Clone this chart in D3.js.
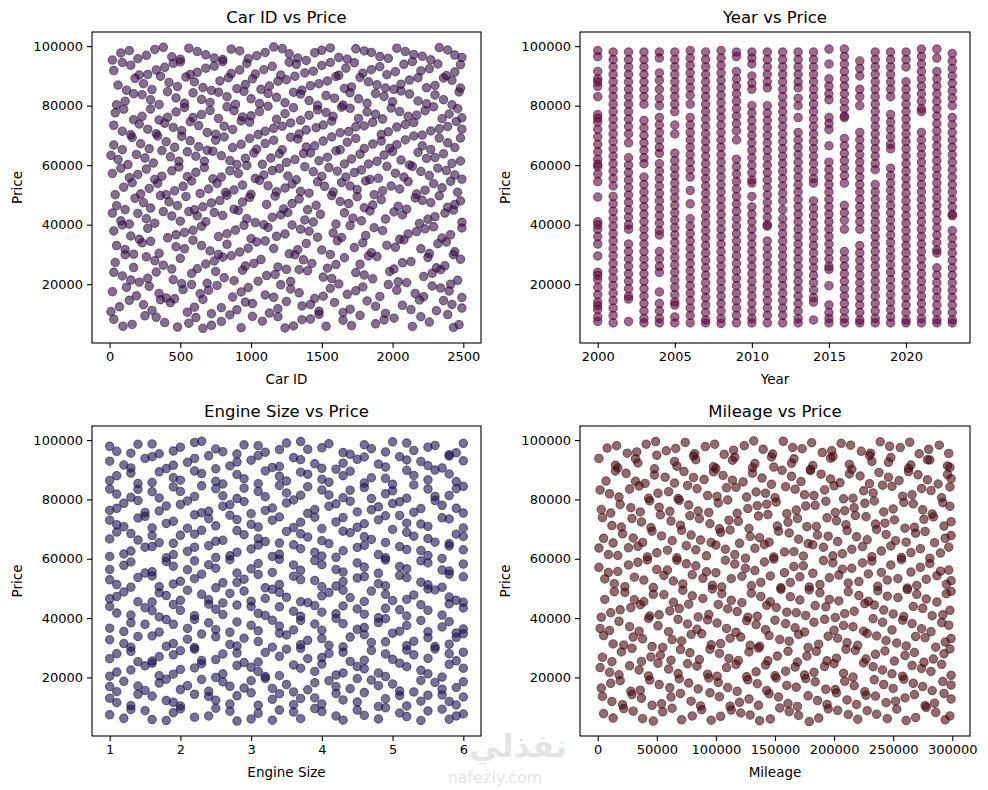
<!DOCTYPE html>
<html>
<head>
<meta charset="utf-8">
<script src="https://cdn.jsdelivr.net/npm/d3@7"></script>
<style>
body { margin: 0; background: #fff; }
text { font-family: "DejaVu Sans", sans-serif; }
</style>
</head>
<body>
<script>
// prices are in thousands, mileage in thousands of miles

var priceTicks = [20000, 40000, 60000, 80000, 100000];

var carIdTicks = [0, 500, 1000, 1500, 2000, 2500];
var carIdPrice = [
[30,8.2],[160,6.5],[250,9.4],[390,7.1],[480,5.6],[610,8.8],[720,6.2],[850,9.7],[930,5.4],[1080,7.6],[1190,9.1],[1300,6.0],[1420,8.3],[1530,5.9],[1650,7.9],[1770,9.5],[1880,6.7],[2010,8.6],[2140,5.8],[2260,7.3],[2390,9.8],[2470,6.4],
[70,12.4],[140,14.6],[300,11.2],[430,13.8],[550,10.6],[660,14.9],[790,12.1],[900,11.4],[1010,13.5],[1130,10.3],[1250,14.2],[1360,12.7],[1480,10.9],[1590,13.9],[1700,11.6],[1820,14.4],[1950,10.2],[2070,12.9],[2190,14.7],[2310,11.1],[2420,13.2],
[20,17.5],[190,16.1],[280,19.3],[400,15.4],[520,18.2],[640,16.8],[760,19.6],[870,15.7],[980,18.9],[1100,16.4],[1210,19.8],[1340,17.1],[1450,15.2],[1560,18.6],[1680,16.6],[1790,19.1],[1910,15.9],[2030,18.0],[2160,16.9],[2280,19.4],[2400,17.7],[2490,15.5],
[90,22.8],[210,20.7],[330,24.1],[450,21.5],[580,23.6],[690,20.3],[810,22.2],[940,24.7],[1050,21.0],[1170,23.3],[1280,20.9],[1400,24.5],[1510,22.4],[1620,20.1],[1740,23.9],[1860,21.8],[1980,24.3],[2100,20.5],[2220,22.6],[2340,24.9],[2460,21.3],
[40,27.3],[170,25.6],[260,29.2],[380,26.4],[500,28.7],[620,25.2],[740,27.8],[860,29.6],[960,26.1],[1070,28.3],[1190,25.8],[1310,29.9],[1430,27.0],[1540,25.4],[1660,28.9],[1770,26.7],[1890,29.3],[2010,25.1],[2130,27.6],[2250,29.0],[2370,26.2],[2480,28.4],
[110,31.7],[230,33.9],[350,30.4],[470,32.6],[590,34.8],[710,31.2],[830,33.4],[920,30.8],[1040,34.2],[1160,32.0],[1270,30.2],[1390,33.7],[1500,31.5],[1610,34.6],[1730,32.3],[1850,30.6],[1960,33.1],[2080,34.9],[2200,31.9],[2320,33.6],[2440,30.9],
[30,37.9],[150,36.2],[270,38.8],[410,35.6],[530,37.4],[650,39.5],[770,36.0],[890,38.2],[1000,35.3],[1120,39.1],[1240,36.9],[1350,38.5],[1470,35.8],[1580,37.2],[1700,39.7],[1810,36.4],[1930,38.0],[2050,35.1],[2170,37.7],[2290,39.3],[2410,36.6],[2490,38.9],
[80,41.3],[200,43.8],[320,40.5],[440,42.9],[560,44.4],[680,41.0],[800,43.1],[910,44.8],[1030,40.7],[1150,42.5],[1260,44.1],[1380,41.6],[1490,43.5],[1600,40.2],[1720,42.2],[1840,44.6],[1950,41.9],[2070,43.3],[2190,40.4],[2300,42.7],[2430,44.9],
[50,46.4],[180,48.9],[290,45.6],[420,47.7],[540,49.5],[660,46.0],[780,48.1],[880,45.2],[990,49.2],[1110,46.8],[1230,45.3],[1340,48.6],[1460,46.5],[1570,49.8],[1690,47.1],[1800,45.7],[1920,48.4],[2040,46.2],[2160,49.0],[2270,47.4],[2390,45.9],[2480,48.0],
[100,52.6],[220,50.3],[340,53.9],[460,51.4],[580,54.7],[700,52.0],[820,50.8],[940,53.3],[1060,54.9],[1180,51.1],[1290,53.7],[1410,50.6],[1520,52.9],[1640,54.2],[1750,51.8],[1870,50.1],[1990,53.0],[2110,54.5],[2230,51.6],[2350,52.4],[2460,50.9],
[20,57.2],[140,55.8],[260,58.7],[370,56.3],[490,59.4],[610,57.6],[730,55.4],[850,58.1],[970,59.9],[1090,56.7],[1200,58.9],[1320,55.1],[1440,57.8],[1550,59.2],[1670,56.0],[1780,58.4],[1900,55.6],[2020,57.3],[2140,59.6],[2260,56.5],[2380,58.2],[2490,55.3],
[60,61.9],[190,63.6],[310,60.7],[430,62.8],[550,64.5],[670,61.3],[790,63.2],[900,60.2],[1020,64.1],[1140,62.4],[1250,60.9],[1370,63.9],[1480,61.5],[1600,64.8],[1710,62.1],[1830,60.4],[1940,63.4],[2060,61.7],[2180,64.3],[2300,62.6],[2420,60.6],
[30,66.8],[160,69.3],[280,65.5],[400,67.9],[510,69.7],[630,66.2],[750,68.4],[870,65.9],[990,69.0],[1100,67.3],[1220,65.2],[1330,68.8],[1450,66.5],[1570,69.5],[1680,67.7],[1800,65.6],[1920,68.1],[2030,66.9],[2150,69.8],[2270,65.3],[2390,67.5],[2480,69.1],
[90,71.4],[210,73.8],[330,70.6],[450,72.7],[570,74.6],[690,71.0],[810,73.1],[930,74.9],[1050,70.3],[1160,72.4],[1280,74.2],[1390,71.8],[1510,73.5],[1630,70.9],[1740,72.9],[1860,74.4],[1970,71.2],[2090,73.7],[2210,70.1],[2330,72.2],[2450,74.7],
[40,77.6],[170,75.3],[290,78.9],[410,76.1],[530,79.4],[650,77.0],[770,75.7],[880,78.3],[1000,76.6],[1120,79.8],[1240,77.3],[1350,75.1],[1470,78.6],[1580,76.4],[1700,79.1],[1820,77.9],[1930,75.5],[2050,78.0],[2170,76.8],[2290,79.6],[2400,77.2],[2490,75.9],
[110,81.5],[230,83.7],[350,80.4],[470,82.6],[590,84.3],[710,81.1],[830,83.0],[950,84.8],[1060,80.7],[1180,82.8],[1300,84.5],[1410,81.7],[1530,83.4],[1650,80.2],[1760,82.3],[1880,84.1],[2000,81.3],[2120,83.9],[2240,80.6],[2360,82.0],[2470,84.6],
[60,86.9],[180,89.2],[300,85.4],[420,87.8],[540,89.6],[660,86.1],[780,88.3],[900,85.7],[1010,89.0],[1130,86.6],[1250,88.7],[1360,85.2],[1480,87.4],[1600,89.8],[1710,86.3],[1830,88.0],[1950,85.9],[2060,87.2],[2180,89.4],[2300,86.8],[2420,88.5],
[30,91.8],[150,93.6],[270,90.5],[390,92.9],[500,94.7],[620,91.2],[740,93.3],[860,90.8],[970,94.2],[1090,92.1],[1210,90.3],[1320,93.9],[1440,91.6],[1560,94.5],[1670,92.6],[1790,90.9],[1910,93.1],[2020,91.4],[2140,94.8],[2260,92.4],[2380,90.1],[2480,93.8],
[80,97.7],[200,95.8],[320,98.9],[440,96.4],[560,99.3],[680,97.1],[800,95.5],[920,98.4],[1040,96.8],[1160,99.7],[1270,97.4],[1390,95.2],[1500,98.6],[1620,96.2],[1740,99.1],[1850,97.9],[1970,95.9],[2090,98.2],[2210,96.6],[2330,99.5],[2440,97.0],
[95,5.9],[330,8.9],[560,6.9],[790,7.5],[1010,9.2],[1240,5.3],[1360,8.1],[1480,9.9],[1710,6.1],[1940,8.0],[2200,9.1],[2430,5.5],[660,5.2],
[10,10.8],[240,13.1],[360,14.8],[600,12.3],[720,10.1],[960,14.0],[1190,11.8],[1420,13.2],[1650,10.5],[1880,12.6],[2130,11.5],[2360,14.5],[2490,12.0],
[120,19.0],[350,16.9],[460,15.1],[700,18.0],[930,17.4],[1160,15.6],[1280,18.4],[1510,16.0],[1740,17.8],[1970,19.9],[2220,15.8],[2340,18.7],[580,19.9],
[30,24.0],[150,21.4],[270,22.0],[510,20.2],[750,24.3],[880,21.2],[1110,22.9],[1340,24.9],[1570,21.9],[1800,23.1],[2040,20.8],[2280,23.7],[2410,20.0],
[110,29.9],[320,27.9],[440,25.1],[680,26.8],[800,29.1],[1020,27.0],[1250,25.0],[1370,28.2],[1600,26.6],[1830,29.5],[2070,27.2],[2310,25.5],[2430,29.9],
[50,33.0],[170,30.1],[290,34.4],[530,31.9],[650,33.0],[770,30.0],[980,32.1],[1100,34.5],[1330,31.6],[1560,30.0],[1790,33.9],[2020,32.4],[2260,30.3],[2380,34.2],
[90,39.9],[210,35.1],[470,36.6],[590,38.1],[830,37.0],[950,39.8],[1180,36.1],[1290,39.9],[1410,37.8],[1640,35.7],[1870,39.0],[2110,36.9],[2230,38.6],[2350,35.5],
[20,43.9],[140,40.2],[260,42.0],[380,44.4],[500,41.2],[620,43.0],[740,44.1],[970,42.0],[1090,40.0],[1210,43.3],[1440,40.9],[1660,44.0],[1780,41.3],[2010,44.3],[2250,41.8],[2370,43.9],[2490,40.8],
[110,45.1],[240,47.4],[360,49.8],[480,46.4],[600,45.0],[720,47.3],[830,49.9],[940,47.6],[1170,49.6],[1290,47.1],[1400,45.0],[1630,47.8],[1750,49.4],[1860,46.6],[2100,45.2],[2210,48.2],[2330,49.7],[2440,46.8],
[40,50.1],[160,54.1],[280,52.2],[400,50.1],[520,52.9],[640,50.5],[760,53.9],[880,51.7],[1000,50.2],[1120,53.1],[1240,52.3],[1350,51.2],[1470,54.4],[1580,51.0],[1700,53.0],[1810,54.7],[1930,51.4],[2050,52.0],[2170,50.3],[2290,53.8],[2410,54.6],
[80,59.0],[200,56.9],[320,55.2],[440,58.1],[550,56.2],[670,59.2],[790,56.0],[910,57.2],[1030,55.5],[1150,58.2],[1260,56.4],[1380,59.5],[1500,56.3],[1610,58.0],[1730,57.5],[1840,55.2],[1960,59.6],[2080,56.0],[2200,57.9],[2320,59.0],[2440,56.7],
[10,63.3],[130,60.2],[250,62.4],[370,64.9],[490,61.3],[610,63.0],[730,64.7],[850,61.6],[960,62.3],[1080,60.3],[1200,63.8],[1310,61.9],[1420,64.1],[1540,62.7],[1660,60.4],[1770,63.7],[1890,61.3],[2000,64.6],[2120,60.1],[2240,62.3],[2360,63.8],[2480,61.4],
[90,65.2],[220,67.2],[340,69.8],[460,66.0],[570,68.2],[690,65.0],[810,69.5],[930,67.0],[1040,65.4],[1160,68.4],[1280,69.4],[1390,66.1],[1510,68.1],[1630,65.2],[1740,69.0],[1860,67.1],[1980,65.7],[2090,68.5],[2210,66.5],[2330,69.1],[2440,65.9],
[30,73.4],[150,70.2],[270,72.1],[390,74.1],[510,71.6],[630,73.3],[750,70.4],[870,72.0],[990,74.5],[1100,71.4],[1220,73.1],[1340,70.5],[1460,72.6],[1570,74.8],[1690,71.3],[1800,73.2],[1920,70.3],[2030,72.8],[2150,74.3],[2270,71.5],[2390,73.0],[2490,72.1],
[100,78.8],[230,76.4],[350,75.2],[470,77.9],[590,76.0],[710,78.4],[830,79.6],[940,76.2],[1060,78.0],[1180,75.4],[1300,79.3],[1410,76.8],[1530,77.7],[1640,79.5],[1760,75.7],[1880,77.1],[1990,79.2],[2110,76.4],[2230,78.3],[2350,75.6],[2460,79.0],
[50,80.3],[170,84.0],[290,82.0],[410,84.7],[530,80.8],[650,82.1],[770,84.5],[890,80.5],[1000,82.3],[1120,84.1],[1240,81.0],[1350,83.9],[1470,80.1],[1590,82.5],[1700,84.3],[1820,80.8],[1940,83.1],[2060,84.9],[2180,81.6],[2300,83.6],[2420,80.3],
[120,85.2],[240,87.4],[360,89.9],[480,86.4],[600,88.0],[720,85.1],[840,89.4],[960,87.1],[1070,85.5],[1190,88.2],[1310,89.9],[1420,86.7],[1540,88.3],[1660,85.8],[1770,89.5],[1890,87.0],[2010,85.5],[2120,88.6],[2240,86.0],[2360,89.3],[2480,85.9],
[90,94.5],[210,90.3],[330,92.0],[450,94.2],[570,90.5],[680,92.6],[800,94.8],[920,92.0],[1030,90.6],[1150,93.2],[1270,94.6],[1380,91.0],[1500,93.5],[1620,90.2],[1730,94.4],[1850,92.1],[1960,90.4],[2080,93.9],[2200,91.7],[2320,94.0],[2440,91.3],
[20,95.3],[140,98.5],[260,96.9],[380,99.6],[500,95.6],[620,98.2],[740,96.0],[860,99.0],[980,95.8],[1100,97.9],[1220,99.2],[1330,96.0],[1450,97.8],[1560,99.4],[1680,95.6],[1800,98.4],[1910,96.5],[2030,99.3],[2150,97.2],[2270,95.4],[2390,98.7],[2490,96.2]
];

var yearTicks = [2000, 2005, 2010, 2015, 2020];
var years = [2000,2001,2002,2003,2004,2005,2006,2007,2008,2009,2010,2011,2012,2013,2014,2015,2016,2017,2018,2019,2020,2021,2022,2023];
var yearPrices = [
[98.5,96.5,91.5,89,88,86.5,83,77,75.8,74.5,72,69.5,67,64.5,62,60.3,59.5,57,54.5,49.3,41,40,38.5,36,33.5,29.5,24,23,21.5,19,16.5,14,12.8,11.5,9,7.5],
[98,95.5,93,90.5,88,85.5,83,80.5,78,75.5,73,70.5,68,65.5,63,60.5,58,55.5,53,49.5,47,44.5,42,39.5,37,34.5,32,29.5,27,24.5,22,19.5,17,14.5,12,9.5,7],
[98,95.5,93,90.5,88,85.5,83,80.5,78,75.5,73,70.5,67.5,62.5,60,57.5,55,52.5,50,47.5,45,42.5,40,38.5,33.5,31,28.5,26,23.5,21,18.5,16,15,7.5],
[98,95.5,93,90.5,88,85.5,83,80.5,75,72.5,70,67.5,65,62.5,60.5,56,53.5,51,48.5,46,43.5,41,38.5,36,33.5,31,28.5,26,23.5,21,18.5,16,13.5,11,8.5,7],
[98,96,91,88.5,85.5,82.5,80,76,73.5,71,68.5,66,64,60.5,58,55.5,53,50.5,48,45.5,43,40.5,38,36.5,31,28.5,26,24,17.4,13.5,11,8.5,7],
[98,95.5,93,90.5,88,85.5,83,80.5,78,73.5,70.5,64,61.5,59,56.5,54,51.5,49,46.5,44,41.5,39,36.5,34,31.5,29,26.5,24,21.5,19,16.5,14,13,9,7],
[98.5,96,93.5,91,88.5,86,83.5,80.5,76,73.5,71,68.5,66,63.5,61,58.5,56,51.5,47,42,39.5,37,34.5,32,29.5,27,24.5,22,19.5,17,14.5,12,9.5,7],
[98,95.5,93,90.5,88,85.5,83,80.5,78,75.5,73,70.5,68,65.5,63,60.5,58,55.5,53,50.5,48,45.5,43,40.5,38,35.5,33,30.5,28,25.5,23,20.5,18,15.5,13,10.5,8,7],
[98.5,96,93.5,91,88.5,86,83.5,81,78.5,76,73.5,71,68.5,66,63.5,61,58.5,56,53.5,51,48.5,46,43.5,41,38.5,36,33.5,31,28.5,26,23.5,21,18.5,16,13.5,11,8.5,6.8],
[98,96.5,91.5,89,86.5,84,81.5,79,76.5,74,71.5,68.5,62,59.5,57,54.5,52,49.5,47,44.5,42,39.5,37,34.5,32,29.5,27,24.5,22,19.5,17,14.5,12,9.5,7],
[98,96,94,90,87.5,85.5,80,77.5,75,72.5,70,67.5,65,62.5,60,57.5,55,54,49.5,46,43.5,41,38.5,36,33.5,31,28.5,26,23.5,21,18.5,16,13.5,11,8.5,7],
[98,95.5,93,90.5,88,86,80,77.5,75,72.5,70,67.5,65,62.5,60,57.5,55,52.5,50,47.5,45,42.5,40,39.5,34.5,32,29.5,27,24.5,22,19.5,17,14.5,12,9.5,7],
[98,95.5,93,90.5,88,85.5,83,80.5,78,75.5,73,70.5,68,65.5,63,60.5,58,55.5,53,50.5,48,45,42,39.5,37,34.5,32,29.5,27,24.5,22,19.5,17,14.5,12,9.5,7],
[98,95.5,93,90.5,88,86,82.5,80,76,71,68.5,66,63.5,61,58.5,56,53.5,51,48.5,46,43.5,41,38.5,36,33.5,31,28.5,26,23.5,21,18.5,16,13.5,11,8.5,7],
[98,95.5,93,90.5,88,85.5,83,80.5,78,75.5,73,70.5,68,65.5,63,60.5,58,55.5,54,48,45.5,43,40.5,38,35.5,33,30.5,28,25.5,23,20.5,18,15.5,14,8],
[99,94,89,86.5,84,82,76,74,72,66.5,61,58.5,56,53.5,51,48.5,46,43.5,41,38.5,36,33.5,31,28.5,26,25,19.5,13,10.5,8.5,7],
[99,96.5,94,91.5,89,86.5,84,81.5,79,76.5,76,69,66.5,64,61.5,59,56.5,54,46.5,44,41.5,38.5,31,28.5,26,23.5,21,18.5,16,13.5,11,8.5,7],
[95,92.5,90,85.5,83,80,71,68.5,66,63.5,61,58.5,56,53.5,51,48.5,46,43.5,41,38.5,33,30.5,28,25.5,23,20.5,18,15.5,13,10.5,8,7],
[98,95.5,93,90.5,88,85.5,83,80.5,78,75.5,73,70.5,68,65.5,63,60.5,58.5,53.5,51,48.5,46,43.5,41,38.5,36,33.5,31,28.5,26,23.5,21,18.5,16,13.5,11,8.5,7],
[98,95.5,93,90.5,88,85.5,83,77,74.5,72,69.5,67,65.5,59,56.5,54,51.5,49,46.5,44,41.5,39,36.5,34,31.5,29,26.5,24,21.5,19,16.5,14,11.5,9,7],
[98,95.5,93,88,85.5,83,80.5,78,75.5,73,70.5,68,65.5,63,60.5,58,55.5,53,50.5,48,45.5,43,40.5,38,35.5,33,30.5,28,25.5,23,20.5,18,15.5,13,10.5,8,7],
[99,96.5,94,91.5,89,86.5,84,81.5,79,78,71,68.5,66,63.5,61,58.5,56,53.5,51,48.5,46,43.5,41,38.5,36,33.5,31,28.5,26,23.5,21,18.5,16,13.5,11,8.5,7],
[99,96,91.5,89,86.5,84,81.5,79,76.5,74,71.5,69,66.5,64,61.5,59,56.5,54,51.5,49,46.5,44,41.5,39,36.5,34,31.5,30.5,25.5,23,20.5,18,15.5,13,10.5,8,7],
[97.5,95,92.5,90,87.5,85,82.5,80,76,73.5,71,68.5,66,63.5,61,58.5,56,53.5,51,48.5,46,43.5,43,38,35.5,33,30.5,28,25.5,23,20.5,18,15.5,13,10.5,8,7]
];

var engineTicks = [1, 2, 3, 4, 5, 6];
var enginePrice = [
[1.0,7.4],[1.3,9.2],[1.6,5.8],[1.9,8.1],[2.2,6.6],[2.5,9.6],[2.8,5.3],[3.1,7.9],[3.4,9.0],[3.7,6.1],[4.0,8.5],[4.3,5.6],[4.6,7.2],[4.9,9.8],[5.2,6.8],[5.5,8.7],[5.8,5.9],[6.0,7.7],
[1.1,11.5],[1.4,14.3],[1.8,12.2],[2.0,10.4],[2.4,13.6],[2.7,11.0],[3.0,14.8],[3.3,12.6],[3.6,10.8],[3.9,13.1],[4.2,14.6],[4.5,11.7],[4.8,10.2],[5.1,13.9],[5.4,12.0],[5.7,14.1],[5.9,10.7],
[1.0,16.9],[1.2,18.7],[1.5,15.6],[1.8,19.4],[2.1,17.2],[2.4,15.3],[2.6,18.5],[2.9,16.4],[3.2,19.7],[3.5,17.6],[3.8,15.8],[4.1,18.9],[4.4,16.2],[4.7,19.1],[5.0,17.8],[5.3,15.1],[5.6,18.3],[5.9,16.6],
[1.1,21.8],[1.5,23.9],[1.7,20.6],[2.0,22.7],[2.3,24.6],[2.6,21.2],[3.0,23.4],[3.2,20.3],[3.6,24.2],[3.9,22.0],[4.2,20.8],[4.5,23.7],[4.8,21.5],[5.1,24.8],[5.4,22.4],[5.7,20.1],[6.0,23.1],
[1.0,26.3],[1.3,28.8],[1.6,25.5],[1.9,27.6],[2.2,29.5],[2.5,26.0],[2.8,28.2],[3.1,25.2],[3.4,27.1],[3.7,29.8],[4.0,26.7],[4.3,28.5],[4.6,25.8],[4.9,27.9],[5.2,29.2],[5.5,26.4],[5.8,28.0],
[1.2,31.4],[1.4,33.8],[1.8,30.5],[2.1,32.9],[2.3,34.6],[2.7,31.1],[2.9,33.2],[3.3,30.2],[3.5,34.3],[3.8,32.5],[4.1,30.8],[4.4,33.6],[4.7,31.8],[5.0,34.9],[5.3,32.2],[5.6,30.4],[5.9,33.5],
[1.0,36.6],[1.3,38.4],[1.7,35.3],[1.9,37.9],[2.2,39.6],[2.5,36.1],[2.8,38.7],[3.1,35.7],[3.4,37.3],[3.7,39.2],[4.0,35.9],[4.3,38.1],[4.6,36.8],[4.9,39.8],[5.2,37.5],[5.5,35.4],[5.8,38.8],[6.0,36.3],
[1.1,41.7],[1.5,43.5],[1.7,40.4],[2.0,42.6],[2.4,44.7],[2.6,41.2],[3.0,43.9],[3.2,40.9],[3.6,42.3],[3.9,44.2],[4.2,41.5],[4.5,43.1],[4.8,40.1],[5.1,42.8],[5.4,44.5],[5.7,41.0],[6.0,43.4],
[1.0,46.5],[1.2,48.8],[1.6,45.4],[1.8,47.6],[2.1,49.4],[2.4,46.2],[2.7,48.3],[3.0,45.7],[3.3,49.7],[3.5,47.0],[3.8,45.2],[4.1,48.6],[4.4,46.9],[4.7,49.1],[5.0,45.9],[5.3,47.8],[5.6,49.5],[5.9,46.0],
[1.1,51.3],[1.4,53.7],[1.7,50.6],[2.0,52.4],[2.3,54.8],[2.6,51.9],[2.9,53.1],[3.2,50.2],[3.6,54.1],[3.9,52.7],[4.2,50.8],[4.5,53.5],[4.8,51.6],[5.1,54.4],[5.4,52.1],[5.7,50.4],[6.0,53.9],
[1.0,56.4],[1.3,58.9],[1.6,55.6],[1.9,57.5],[2.2,59.3],[2.5,56.8],[2.8,55.2],[3.1,58.4],[3.4,59.8],[3.7,56.1],[4.0,58.0],[4.3,55.5],[4.6,57.2],[4.9,59.6],[5.2,56.6],[5.5,58.6],[5.8,55.9],
[1.2,61.6],[1.5,63.9],[1.8,60.3],[2.1,62.5],[2.4,64.4],[2.7,61.0],[3.0,63.3],[3.3,60.8],[3.6,64.7],[3.9,62.2],[4.2,60.5],[4.5,63.8],[4.8,61.4],[5.1,64.1],[5.4,62.8],[5.7,60.1],[6.0,63.0],
[1.0,66.7],[1.3,68.5],[1.7,65.4],[2.0,67.9],[2.3,69.6],[2.6,66.2],[2.9,68.1],[3.2,65.8],[3.5,69.2],[3.8,67.3],[4.1,65.1],[4.4,68.8],[4.7,66.5],[5.0,69.9],[5.3,67.6],[5.6,65.6],[5.9,68.3],
[1.1,71.5],[1.4,73.7],[1.6,70.4],[1.9,72.6],[2.2,74.8],[2.5,71.1],[2.8,73.2],[3.1,70.7],[3.4,74.1],[3.7,72.3],[4.0,70.2],[4.3,73.9],[4.6,71.8],[4.9,74.5],[5.2,72.0],[5.5,70.9],[5.8,73.4],
[1.0,76.3],[1.2,78.7],[1.5,75.6],[1.8,77.8],[2.1,79.5],[2.4,76.0],[2.7,78.2],[3.0,75.2],[3.3,77.1],[3.6,79.8],[3.9,76.6],[4.2,78.5],[4.5,75.8],[4.8,77.5],[5.1,79.2],[5.4,76.9],[5.7,78.0],[6.0,75.4],
[1.1,81.8],[1.4,83.4],[1.7,80.5],[2.0,82.7],[2.3,84.6],[2.6,81.2],[2.9,83.8],[3.2,80.9],[3.5,82.2],[3.8,84.3],[4.1,81.5],[4.4,83.1],[4.7,80.3],[5.0,82.9],[5.3,84.9],[5.6,81.0],[5.9,83.6],
[1.0,86.4],[1.3,88.9],[1.6,85.7],[1.9,87.3],[2.2,89.6],[2.5,86.1],[2.8,88.4],[3.1,85.3],[3.4,87.8],[3.7,89.2],[4.0,86.8],[4.3,88.0],[4.6,85.5],[4.9,87.1],[5.2,89.8],[5.5,86.6],[5.8,88.6],
[1.2,91.6],[1.5,93.8],[1.8,90.4],[2.1,92.5],[2.4,94.7],[2.7,91.3],[3.0,93.2],[3.3,90.8],[3.6,94.1],[3.9,92.0],[4.2,90.2],[4.5,93.5],[4.8,91.9],[5.1,94.4],[5.4,92.8],[5.7,90.6],[6.0,93.0],
[1.0,97.9],[1.3,95.6],[1.6,98.7],[1.9,96.3],[2.2,99.2],[2.5,97.0],[2.8,95.3],[3.1,98.1],[3.4,96.8],[3.7,99.5],[4.0,97.4],[4.3,95.8],[4.6,98.4],[4.9,96.0],[5.2,99.0],[5.5,97.6],[5.8,95.1],[6.0,98.9],
[1.2,6.2],[1.5,8.8],[1.8,5.5],[2.0,9.4],[2.4,7.0],[2.7,8.6],[3.0,6.0],[3.3,5.6],[3.6,8.3],[3.9,9.5],[4.2,7.0],[4.5,9.0],[4.8,6.0],[5.1,8.0],[5.4,5.5],[5.7,9.3],[5.9,7.0],
[1.0,13.0],[1.3,10.5],[1.6,13.7],[1.9,11.6],[2.2,14.3],[2.5,12.3],[2.8,13.8],[3.1,10.6],[3.4,14.5],[3.7,12.9],[4.0,11.0],[4.3,12.4],[4.6,14.9],[4.9,12.8],[5.2,10.4],[5.5,14.0],[5.8,11.9],[6.0,13.4],
[1.1,15.2],[1.4,17.1],[1.7,18.1],[2.0,15.9],[2.3,19.3],[2.7,17.0],[3.0,18.9],[3.3,16.3],[3.6,15.1],[3.9,18.2],[4.2,16.9],[4.5,19.6],[4.8,17.2],[5.1,15.4],[5.4,19.0],[5.7,16.0],[6.0,18.5],
[1.0,20.4],[1.3,22.5],[1.6,24.8],[1.9,21.1],[2.2,23.2],[2.5,20.0],[2.8,24.0],[3.1,22.0],[3.4,20.6],[3.7,23.1],[4.0,24.5],[4.3,21.5],[4.6,22.9],[4.9,20.3],[5.2,23.6],[5.5,21.2],[5.8,24.4],
[1.1,28.0],[1.4,25.3],[1.7,27.0],[2.0,29.0],[2.3,25.7],[2.6,27.9],[2.9,25.0],[3.2,28.4],[3.5,29.5],[3.8,26.3],[4.1,28.1],[4.4,25.4],[4.7,29.1],[5.0,26.1],[5.3,27.6],[5.6,29.6],[5.9,25.6],[6.0,28.5],
[1.0,32.7],[1.3,30.2],[1.6,34.0],[1.9,31.4],[2.2,30.1],[2.5,33.7],[2.8,30.6],[3.1,32.1],[3.4,34.9],[3.7,31.0],[4.0,33.1],[4.3,30.3],[4.6,34.4],[4.9,32.0],[5.2,30.7],[5.5,33.4],[5.8,31.2],[6.0,34.7],
[1.2,35.5],[1.5,37.9],[1.8,39.5],[2.1,36.5],[2.4,38.4],[2.7,35.2],[3.0,37.6],[3.3,39.3],[3.6,36.0],[3.9,38.0],[4.2,39.9],[4.5,36.2],[4.8,38.5],[5.1,35.6],[5.4,39.2],[5.7,37.0],[5.9,35.0],
[1.0,43.9],[1.3,41.0],[1.6,42.5],[1.9,44.6],[2.2,40.8],[2.5,43.0],[2.8,44.4],[3.1,41.6],[3.4,43.8],[3.7,40.6],[4.0,42.0],[4.3,44.1],[4.6,41.3],[4.9,43.3],[5.2,40.7],[5.5,42.6],[5.8,44.8],
[1.1,47.3],[1.4,45.5],[1.7,48.5],[2.0,46.0],[2.3,48.0],[2.6,45.1],[2.9,49.1],[3.2,46.6],[3.4,48.7],[3.7,45.5],[4.0,47.5],[4.3,49.4],[4.6,45.6],[4.9,48.0],[5.2,46.3],[5.5,49.8],[5.8,47.1],[6.0,45.3],
[1.0,52.9],[1.3,50.4],[1.6,54.2],[1.9,51.5],[2.2,53.3],[2.5,50.2],[2.8,52.0],[3.1,54.7],[3.4,51.3],[3.7,53.0],[4.0,50.6],[4.3,52.3],[4.6,54.0],[4.9,50.9],[5.2,53.6],[5.5,51.2],[5.8,54.8],
[1.2,57.8],[1.5,55.2],[1.8,59.1],[2.1,56.3],[2.4,58.0],[2.7,59.7],[3.0,56.6],[3.3,55.4],[3.6,57.9],[3.9,59.4],[4.2,56.4],[4.5,58.6],[4.8,55.1],[5.1,57.4],[5.4,59.3],[5.7,56.2],[6.0,58.2],
[1.0,60.8],[1.3,62.6],[1.6,64.1],[1.9,61.4],[2.2,63.9],[2.5,60.4],[2.8,62.2],[3.1,64.6],[3.4,61.5],[3.7,63.4],[4.0,60.9],[4.3,62.7],[4.6,64.5],[4.9,60.3],[5.2,63.1],[5.5,61.1],[5.8,64.3],
[1.1,69.0],[1.4,66.3],[1.6,67.8],[1.9,65.2],[2.2,68.3],[2.5,65.9],[2.8,69.5],[3.1,66.8],[3.4,65.3],[3.7,68.4],[4.0,66.1],[4.3,69.3],[4.6,67.4],[4.9,65.5],[5.2,68.9],[5.5,66.8],[5.8,65.1],[6.0,67.5],
[1.0,73.0],[1.2,70.8],[1.5,74.3],[1.8,71.9],[2.1,70.3],[2.4,73.5],[2.7,74.7],[3.0,71.6],[3.3,73.0],[3.6,70.5],[3.9,74.0],[4.2,72.4],[4.5,70.6],[4.8,73.1],[5.1,74.6],[5.4,71.7],[5.7,73.8],[6.0,70.4],
[1.1,77.0],[1.4,79.6],[1.7,76.1],[2.0,78.3],[2.3,75.5],[2.6,77.7],[2.9,79.3],[3.2,76.3],[3.5,78.8],[3.8,75.3],[4.1,77.7],[4.4,79.4],[4.7,76.5],[5.0,78.6],[5.3,75.7],[5.6,79.6],[5.9,77.0],
[1.0,83.5],[1.3,80.7],[1.6,82.6],[1.9,84.2],[2.2,81.0],[2.5,83.6],[2.8,80.3],[3.1,82.7],[3.4,84.7],[3.7,81.4],[4.0,83.2],[4.3,80.6],[4.6,84.0],[4.9,81.9],[5.2,80.4],[5.5,83.5],[5.8,81.3],[6.0,84.4],
[1.1,88.0],[1.4,85.4],[1.7,89.3],[2.0,86.5],[2.3,88.7],[2.6,85.2],[2.9,87.0],[3.2,89.6],[3.5,86.2],[3.8,88.5],[4.1,85.8],[4.4,89.5],[4.7,87.3],[5.0,85.1],[5.3,88.1],[5.6,89.9],[5.9,86.0],
[1.0,92.9],[1.3,90.6],[1.6,94.4],[1.9,91.5],[2.2,93.8],[2.5,90.3],[2.8,92.6],[3.1,94.8],[3.4,91.1],[3.7,93.4],[4.0,90.5],[4.3,92.2],[4.6,94.3],[4.9,90.9],[5.2,93.3],[5.5,91.4],[5.8,94.6],
[1.1,96.2],[1.4,98.6],[1.7,95.4],[2.0,97.6],[2.3,99.6],[2.6,96.1],[2.9,98.4],[3.2,95.9],[3.5,99.0],[3.8,96.9],[4.1,98.8],[4.4,95.2],[4.7,97.1],[5.0,99.4],[5.3,96.5],[5.6,98.2],[5.9,95.7]
];

var mileageTicks = [0, 50000, 100000, 150000, 200000, 250000, 300000];
var mileagePrice = [
[5,7.8],[22,9.5],[38,6.1],[55,8.4],[71,5.7],[88,9.1],[104,6.9],[121,8.0],[137,5.4],[154,9.7],[170,7.2],[187,6.3],[203,8.9],[220,5.9],[236,7.6],[253,9.3],[269,6.5],[286,8.2],[298,7.0],
[12,11.9],[29,14.2],[46,10.6],[62,13.4],[79,12.0],[95,14.8],[112,10.3],[128,12.7],[145,14.5],[161,11.2],[178,13.8],[194,10.9],[211,12.4],[227,14.0],[244,11.5],[260,13.1],[277,10.5],[293,14.6],
[3,16.4],[19,18.9],[36,15.7],[52,17.6],[69,19.5],[85,16.1],[102,18.3],[118,15.3],[135,17.9],[151,19.8],[168,16.7],[184,18.5],[201,15.9],[217,17.2],[234,19.2],[250,16.3],[267,18.0],[283,15.5],[299,17.4],
[10,21.7],[27,23.9],[43,20.5],[60,22.8],[76,24.6],[93,21.1],[109,23.3],[126,20.2],[142,24.2],[159,22.1],[175,20.8],[192,23.7],[208,21.4],[225,24.9],[241,22.5],[258,20.4],[274,23.0],[291,24.4],
[4,26.8],[20,28.6],[37,25.4],[53,27.5],[70,29.4],[86,26.0],[103,28.1],[119,25.7],[136,29.9],[152,27.2],[169,25.2],[185,28.8],[202,26.5],[218,29.1],[235,27.8],[251,25.5],[268,28.4],[284,26.2],[298,29.6],
[13,31.3],[30,33.6],[46,30.4],[63,32.7],[79,34.5],[96,31.0],[112,33.2],[129,30.8],[145,34.1],[162,32.2],[178,30.1],[195,33.9],[211,31.7],[228,34.8],[244,32.4],[261,30.6],[277,33.4],[294,31.9],
[2,36.5],[18,38.9],[35,35.6],[51,37.4],[68,39.6],[84,36.2],[101,38.3],[117,35.2],[134,37.8],[150,39.3],[167,36.7],[183,38.6],[200,35.9],[216,37.1],[233,39.8],[249,36.0],[266,38.1],[282,35.4],[297,37.6],
[11,41.8],[28,43.5],[44,40.7],[61,42.4],[77,44.7],[94,41.2],[110,43.1],[127,40.3],[143,44.3],[160,42.0],[176,40.9],[193,43.8],[209,41.5],[226,44.9],[242,42.7],[259,40.5],[275,43.3],[292,41.1],
[6,46.3],[23,48.7],[39,45.5],[56,47.9],[72,49.4],[89,46.6],[105,48.2],[122,45.2],[138,47.3],[155,49.7],[171,46.1],[188,48.5],[204,45.8],[221,47.6],[237,49.2],[254,46.9],[270,48.0],[287,45.4],[299,49.0],
[14,51.6],[31,53.8],[47,50.3],[64,52.5],[80,54.6],[97,51.1],[113,53.3],[130,50.9],[146,54.2],[163,52.0],[179,50.5],[196,53.6],[212,51.8],[229,54.9],[245,52.8],[262,50.1],[278,53.1],[295,51.4],
[1,57.1],[17,55.7],[34,58.8],[50,56.4],[67,59.5],[83,57.6],[100,55.3],[116,58.2],[133,56.0],[149,59.9],[166,57.4],[182,55.1],[199,58.6],[215,56.8],[232,59.2],[248,57.9],[265,55.5],[281,58.4],[297,56.2],
[9,61.4],[26,63.7],[42,60.6],[59,62.9],[75,64.4],[92,61.0],[108,63.2],[125,60.2],[141,64.8],[158,62.3],[174,60.9],[191,63.9],[207,61.7],[224,64.1],[240,62.6],[257,60.4],[273,63.4],[290,61.9],
[5,66.9],[21,68.4],[38,65.5],[54,67.7],[71,69.6],[87,66.3],[104,68.9],[120,65.2],[137,67.1],[153,69.3],[170,66.6],[186,68.0],[203,65.8],[219,67.4],[236,69.9],[252,66.1],[269,68.6],[285,65.4],[299,67.8],
[12,71.2],[29,73.6],[45,70.5],[62,72.7],[78,74.5],[95,71.8],[111,73.0],[128,70.2],[144,74.9],[161,72.3],[177,70.8],[194,73.8],[210,71.5],[227,74.2],[243,72.0],[260,70.3],[276,73.3],[293,71.0],
[3,76.6],[19,78.3],[36,75.8],[52,77.4],[69,79.7],[85,76.1],[102,78.8],[118,75.3],[135,77.9],[151,79.1],[168,76.4],[184,78.0],[201,75.6],[217,77.2],[234,79.5],[250,76.8],[267,78.5],[283,75.1],[298,77.7],
[10,81.9],[27,83.5],[43,80.4],[60,82.6],[76,84.7],[93,81.3],[109,83.9],[126,80.8],[142,82.1],[159,84.3],[175,81.6],[192,83.2],[208,80.2],[225,82.9],[241,84.8],[258,81.1],[274,83.7],[291,80.6],
[7,86.2],[24,88.8],[40,85.4],[57,87.5],[73,89.4],[90,86.7],[106,88.1],[123,85.9],[139,87.2],[156,89.8],[172,86.0],[189,88.5],[205,85.6],[222,87.9],[238,89.1],[255,86.4],[271,88.3],[288,85.2],[299,87.0],
[15,91.5],[32,93.7],[48,90.3],[65,92.8],[81,94.6],[98,91.0],[114,93.2],[131,90.7],[147,94.3],[164,92.2],[180,90.1],[197,93.9],[213,91.8],[230,94.8],[246,92.5],[263,90.5],[279,93.4],[296,91.3],
[8,97.3],[25,95.6],[41,98.6],[58,96.4],[74,99.2],[91,97.8],[107,95.2],[124,98.1],[140,96.9],[157,99.6],[173,97.1],[190,95.8],[206,98.9],[223,96.2],[239,99.4],[256,97.5],[272,95.4],[289,98.3],
[13,6.3],[30,8.6],[47,5.3],[63,9.6],[80,7.0],[96,5.6],[113,9.0],[129,7.3],[146,6.0],[162,8.5],[179,5.1],[195,9.4],[212,7.5],[228,8.8],[245,6.1],[261,5.5],[278,9.9],[294,5.7],
[4,13.6],[21,10.8],[37,13.0],[54,11.1],[70,14.6],[87,10.4],[103,13.5],[120,11.6],[136,10.6],[153,13.4],[169,10.2],[186,12.2],[202,14.8],[219,10.9],[235,13.7],[252,12.0],[268,14.2],[285,11.3],[299,12.7],
[11,18.0],[28,15.3],[44,19.1],[61,16.5],[77,18.1],[94,19.8],[110,16.6],[127,19.2],[143,15.6],[160,17.3],[176,19.6],[193,16.0],[209,18.7],[226,15.2],[242,17.6],[259,19.4],[275,16.9],[292,18.6],
[2,23.3],[18,20.9],[35,22.5],[51,24.8],[68,21.3],[84,23.8],[101,20.4],[117,24.4],[134,21.9],[150,20.6],[167,23.5],[183,21.7],[200,24.6],[216,20.1],[233,23.6],[249,21.2],[266,24.0],[282,22.0],[299,20.7],
[12,25.3],[29,29.8],[45,26.9],[62,25.8],[78,28.3],[95,29.5],[111,26.4],[128,28.6],[144,25.6],[161,28.8],[177,27.2],[194,25.6],[210,29.5],[227,26.2],[243,28.9],[260,27.4],[276,25.1],[293,28.0],
[5,34.1],[22,30.9],[38,33.0],[55,30.1],[71,32.3],[88,34.7],[104,31.4],[121,33.6],[137,30.5],[154,32.8],[170,34.5],[187,31.2],[203,33.2],[220,30.8],[236,34.0],[253,31.6],[269,33.8],[286,30.2],[299,33.1],
[10,35.8],[27,37.1],[43,39.9],[60,35.4],[76,38.0],[93,39.4],[109,36.5],[126,39.1],[142,36.1],[159,38.1],[175,35.3],[192,39.6],[208,37.5],[225,35.6],[241,38.6],[258,39.3],[274,36.4],[291,38.5],
[3,40.3],[19,42.8],[36,44.5],[52,41.1],[69,43.2],[85,40.4],[102,44.6],[118,42.2],[135,40.6],[151,43.6],[168,41.8],[184,44.2],[201,40.2],[217,42.3],[234,44.4],[250,41.4],[267,43.9],[283,40.8],[298,42.6],
[14,48.9],[31,46.2],[47,48.0],[64,45.3],[80,47.5],[97,49.8],[113,46.0],[130,48.4],[146,45.5],[163,47.2],[179,49.5],[196,46.3],[212,48.9],[229,45.7],[245,47.4],[262,49.6],[278,46.4],[295,48.2],
[6,53.2],[23,50.6],[39,52.8],[56,54.4],[72,51.5],[89,53.4],[105,50.5],[122,54.1],[138,52.0],[155,50.2],[171,53.9],[188,51.3],[204,54.5],[221,52.3],[237,50.7],[254,53.3],[270,51.0],[287,54.3],[299,52.6],
[9,55.4],[26,57.9],[42,59.6],[59,56.2],[75,58.3],[92,55.6],[108,59.5],[125,56.8],[141,58.9],[158,55.3],[174,57.6],[191,59.4],[207,56.5],[224,58.6],[240,55.4],[257,59.7],[273,57.1],[290,55.8],
[1,63.6],[17,61.1],[34,64.2],[50,62.0],[67,60.3],[83,63.0],[100,64.6],[116,61.4],[133,63.5],[149,60.6],[166,62.4],[182,64.7],[199,61.0],[215,63.2],[232,60.7],[248,64.3],[265,62.1],[281,60.2],[297,63.9],
[13,65.3],[30,67.0],[46,69.3],[63,66.1],[79,68.0],[96,65.5],[112,69.7],[129,67.5],[145,65.6],[162,68.7],[178,65.1],[195,67.6],[211,69.5],[228,66.4],[244,68.2],[261,65.6],[277,69.2],[294,66.9],
[4,73.9],[20,70.7],[37,72.4],[53,74.8],[70,71.3],[86,73.5],[103,70.1],[119,72.6],[136,74.4],[152,71.0],[169,73.6],[185,70.9],[202,72.8],[218,74.6],[235,71.7],[251,73.1],[268,70.6],[284,74.1],[299,72.5],
[11,75.4],[28,77.2],[44,79.5],[61,76.0],[77,78.1],[94,75.6],[110,79.8],[127,76.9],[143,78.4],[160,75.2],[176,77.8],[193,79.4],[209,76.2],[226,78.7],[242,75.8],[259,79.0],[275,76.5],[292,78.9],
[2,83.2],[18,80.8],[35,84.5],[51,82.1],[68,80.3],[84,83.6],[101,81.0],[117,84.1],[134,82.5],[150,80.6],[167,83.4],[183,81.3],[200,84.6],[216,80.4],[233,82.2],[249,84.4],[266,81.6],[282,83.0],[298,84.2],
[15,89.6],[32,86.1],[48,88.2],[65,85.5],[81,87.4],[98,89.3],[114,86.5],[131,88.9],[147,85.1],[164,87.8],[180,89.7],[197,86.9],[213,88.6],[230,85.3],[246,87.5],[263,89.4],[279,86.6],[296,88.4],
[1,93.8],[17,90.6],[34,92.3],[50,94.9],[67,91.2],[83,93.4],[100,90.4],[116,94.2],[133,92.1],[149,90.9],[166,93.7],[182,91.4],[199,94.5],[215,90.2],[232,92.8],[248,94.1],[265,91.6],[281,93.3],[298,90.8],
[16,98.1],[33,96.0],[49,99.5],[66,97.2],[82,95.4],[99,98.6],[115,96.6],[132,99.7],[148,95.3],[165,97.5],[181,99.1],[198,96.4],[214,98.3],[231,95.6],[247,97.9],[264,99.3],[280,96.9],[297,95.5]
];

var W = 988, H = 790;
var svg = d3.select("body").append("svg")
    .attr("width", W)
    .attr("height", H);

// one subplot: points, frame, ticks, labels
function panel(left, top, w, h, xdom, xticks, pts, xmul, color, title, xlab) {
    var x = d3.scaleLinear().domain(xdom).range([left, left + w]);
    var y = d3.scaleLinear().domain([250, 104750]).range([top + h, top]);
    var g = svg.append("g");

    g.append("g").selectAll("circle")
        .data(pts)
        .enter()
        .append("circle")
        .attr("cx", function(d) { return x(d[0] * xmul); })
        .attr("cy", function(d) { return y(d[1] * 1000); })
        .attr("r", 4.2)
        .style("fill", color)
        .style("fill-opacity", 0.6)
        .style("stroke", color)
        .style("stroke-opacity", 0.6)
        .style("stroke-width", 1.1);

    var xa = g.append("g")
        .attr("transform", "translate(0," + (top + h) + ")")
        .call(d3.axisBottom(x).tickValues(xticks).tickFormat(d3.format("d")).tickSize(5).tickSizeOuter(0).tickPadding(4));
    var ya = g.append("g")
        .attr("transform", "translate(" + left + ",0)")
        .call(d3.axisLeft(y).tickValues(priceTicks).tickFormat(d3.format("d")).tickSize(5).tickSizeOuter(0).tickPadding(4));
    [xa, ya].forEach(function(a) {
        a.select(".domain").remove();
        a.selectAll("text").style("font-size", "13px").style("font-family", "DejaVu Sans").attr("fill", "#000");
        a.selectAll("line").attr("stroke", "#000").attr("stroke-width", 1.1);
    });

    g.append("rect")
        .attr("x", left).attr("y", top)
        .attr("width", w).attr("height", h)
        .attr("fill", "none")
        .attr("stroke", "#000")
        .attr("stroke-width", 1.1);

    g.append("text")
        .attr("x", left + w / 2).attr("y", top - 9)
        .attr("text-anchor", "middle")
        .style("font-size", "16.5px")
        .text(title);
    g.append("text")
        .attr("x", left + w / 2).attr("y", top + h + 41)
        .attr("text-anchor", "middle")
        .style("font-size", "13.5px")
        .text(xlab);
    g.append("text")
        .attr("transform", "translate(" + (left - 70) + "," + (top + h / 2) + ") rotate(-90)")
        .attr("text-anchor", "middle")
        .style("font-size", "13.5px")
        .text("Price");
}

var yearPts = [];
years.forEach(function(yr, i) {
    yearPrices[i].forEach(function(p) { yearPts.push([yr, p]); });
});

panel(92, 32, 389, 311, [-124, 2625], carIdTicks, carIdPrice, 1, "#340f45", "Car ID vs Price", "Car ID");
panel(580, 32, 390, 311, [1998.85, 2024.15], yearTicks, yearPts, 1, "#5e063c", "Year vs Price", "Year");
panel(92, 426, 389, 310, [0.75, 6.25], engineTicks, enginePrice, 1, "#1a1450", "Engine Size vs Price", "Engine Size");
panel(580, 426, 390, 310, [-15000, 315000], mileageTicks, mileagePrice, 1000, "#4a0a10", "Mileage vs Price", "Mileage");

// watermark
svg.append("text")
    .attr("x", 518).attr("y", 757)
    .attr("text-anchor", "middle")
    .style("font-size", "32px")
    .style("font-weight", "bold")
    .style("fill", "#d8d8d8")
    .style("fill-opacity", 0.7)
    .text("نفذلي");
svg.append("text")
    .attr("x", 495).attr("y", 783)
    .attr("text-anchor", "middle")
    .style("font-size", "16px")
    .style("fill", "#d8d8d8")
    .style("fill-opacity", 0.7)
    .text("nafezly.com");
</script>
</body>
</html>
